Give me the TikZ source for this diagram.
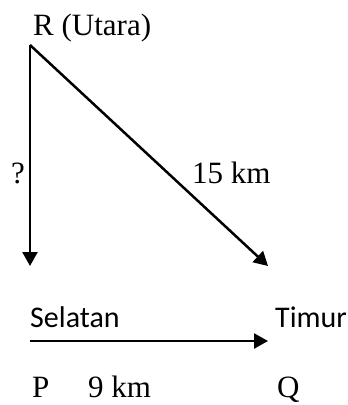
\documentclass[tikz,border=0pt]{standalone}
\usepackage{fontspec}
\setmainfont{Liberation Serif}
\newfontfamily\labelfont{Carlito}
\usetikzlibrary{arrows.meta, positioning}

\begin{document}
\begin{tikzpicture}[x=1pt, y=-1pt,
    vec/.style={line width=2.5pt, -{Triangle[length=14pt, width=15pt]}},
    lbl/.style={inner sep=0pt, anchor=base west, font=\fontsize{31}{36}\selectfont},
    dir/.style={inner sep=0pt, anchor=base west, font=\labelfont\fontsize{30}{34}\selectfont}]
  \useasboundingbox (0,0) rectangle (348,405);
  % vertices and arrow ends
  \coordinate (r) at (30,45);
  \coordinate (south) at (30,266);
  \coordinate (east) at (268,266);
  \coordinate (pstart) at (30,341);
  \coordinate (qend) at (268,341);
  % labels
  \node[lbl] (rlabel) at (33,35) {R (Utara)};
  \node[lbl] (quest) at (11,183) {?};
  \node[lbl] (dist15) at (192,183) {15 km};
  \node[dir] (selatan) at (30,327) {Selatan};
  \node[dir] (timur) at (275,327) {Timur};
  \node[lbl] (p) at (32,397) {P};
  \node[lbl] (dist9) at (88,397) {9 km};
  \node[lbl] (q) at (277,397) {Q};
  % vectors
  \draw[vec] (r) -- (south);
  \draw[vec] (r) -- (east);
  \draw[vec] (pstart) -- (qend);
\end{tikzpicture}
\end{document}
